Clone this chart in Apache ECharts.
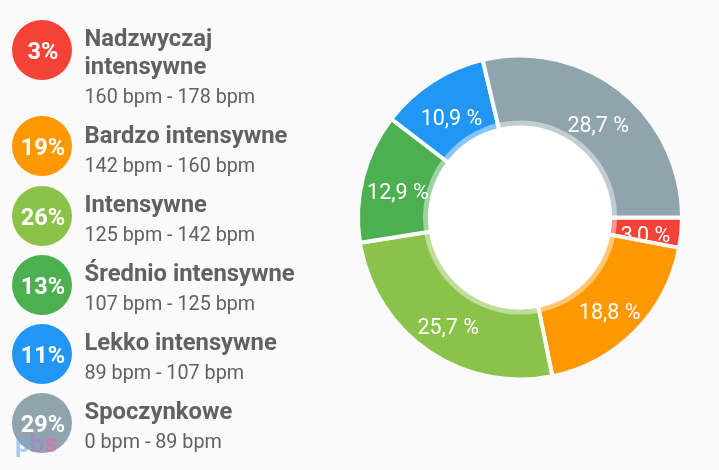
<!DOCTYPE html>
<html><head><meta charset="utf-8">
<style>html,body{margin:0;padding:0;background:#fafafa}#c{width:719px;height:470px}</style>
<script src="https://cdn.jsdelivr.net/npm/echarts@6/dist/echarts.min.js"></script>
</head><body><div id="c"></div>
<script>
var zones = ['Nadzwyczaj\nintensywne','Bardzo intensywne','Intensywne','Średnio intensywne','Lekko intensywne','Spoczynkowe'];
var ranges = ['160 bpm - 178 bpm','142 bpm - 160 bpm','125 bpm - 142 bpm','107 bpm - 125 bpm','89 bpm - 107 bpm','0 bpm - 89 bpm'];
var shares = [3.0,18.8,25.7,12.9,10.9,28.7];
var rounded = ['3%','19%','26%','13%','11%','29%'];
var colors = ['#F44336','#FF9800','#8BC34A','#4CAF50','#2196F3','#90A4AE'];

var BG = '#fafafa', FONT = 'Roboto', CX = 520, CY = 217.5;
var circleY = [50,146,216,285,354,423];
var titleY = [52,135,204,273,342,411];
var rangeY = [96,165,234,303,372,441];

function fmt(v){ return v.toFixed(1).replace('.',',') + ' %'; }
var graphic = [
  {type:'ring', z:5, shape:{cx:CX,cy:CY,r:97,r0:92}, style:{fill:'rgba(255,255,255,0.45)'}},
  {type:'circle', z:6, shape:{cx:CX,cy:CY,r:92}, style:{fill:'#fff'}}
];
zones.forEach(function(n,i){
  graphic.push({type:'circle', shape:{cx:42,cy:circleY[i],r:30}, style:{fill:colors[i]}});
  graphic.push({type:'text', x:43, y:circleY[i]+3, style:{text:rounded[i],fill:'#fff',font:'bold 23.5px '+FONT,align:'center',verticalAlign:'middle'}});
  graphic.push({type:'text', x:84.5, y:titleY[i]+2, style:{text:n,fill:'#616161',font:'bold 23.8px '+FONT,lineHeight:28,align:'left',verticalAlign:'middle'}});
  graphic.push({type:'text', x:84.5, y:rangeY[i]+2, style:{text:ranges[i],fill:'#616161',font:'19.75px '+FONT,align:'left',verticalAlign:'middle'}});
});
graphic.push({type:'text', x:15, y:445, z:50, style:{text:'{a|p}{b|b}{c|s}',verticalAlign:'middle',rich:{
  a:{fill:'rgba(120,170,235,0.6)',font:'bold 26px '+FONT},
  b:{fill:'rgba(165,130,205,0.65)',font:'bold 26px '+FONT},
  c:{fill:'rgba(225,105,175,0.7)',font:'bold 26px '+FONT}}}});

// label nudge: slightly toward the centre, then down, as placed in the reference
function nudge(params){
  var before = 0, total = 0;
  shares.forEach(function(v,i){ total += v; if(i<params.dataIndex) before += v; });
  var a = (before + shares[params.dataIndex]/2)/total*2*Math.PI;
  return {dx:-Math.cos(a)*3, dy:-Math.sin(a)*3+7.5};
}
function ring(z, keep){
  return {type:'pie', radius:[90,162], center:[CX,CY], startAngle:0, clockwise:true, z:z, silent:true, animation:false,
    avoidLabelOverlap:false, labelLine:{show:false}, labelLayout:nudge,
    data: shares.map(function(v,i){
      var on = keep(i);
      return {value:v, name:zones[i],
        itemStyle:{color:on?colors[i]:'transparent', borderColor:on?BG:'transparent', borderWidth:on?4:0},
        label:{show:on, position:'inside', formatter:fmt(v), color:'#fff', fontFamily:FONT, fontSize:21.5, rotate:0}};
    })};
}
var chart = echarts.init(document.getElementById('c'), null, {renderer:'canvas'});
chart.setOption({
  backgroundColor: BG,
  animation:false,
  graphic: graphic,
  series:[
    // the first slice's label sits beneath the following slice, as in the reference
    ring(3, function(i){return i===0;}),
    ring(4, function(i){return i!==0;})
  ]
});
</script></body></html>
